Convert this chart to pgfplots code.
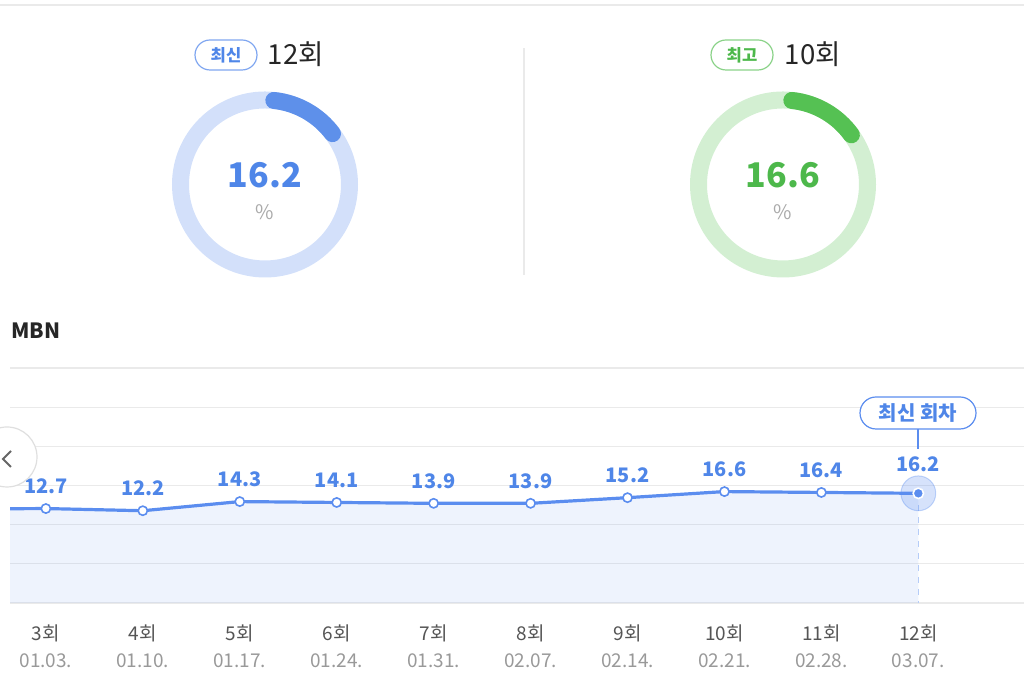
\documentclass[border=0pt]{standalone}
\usepackage{fontspec}
\setmainfont{Noto Sans CJK KR}
\usepackage{pgfplots}
\pgfplotsset{compat=1.18}
\definecolor{lineblue}{HTML}{5B8DEF}
\definecolor{lblblue}{HTML}{4F86E8}
\definecolor{ringblue}{HTML}{D3E0FA}
\definecolor{arcblue}{HTML}{5E90EA}
\definecolor{badgeblue}{HTML}{7FA6F0}
\definecolor{ringgreen}{HTML}{D3EFD2}
\definecolor{arcgreen}{HTML}{55C153}
\definecolor{lblgreen}{HTML}{4DB84B}
\definecolor{badgegreen}{HTML}{8AD288}
\definecolor{gridc}{HTML}{EAEAEA}
\definecolor{tickc}{HTML}{555555}
\definecolor{datec}{HTML}{999999}
\definecolor{pctc}{HTML}{AAAAAA}
\begin{document}
\begin{tikzpicture}[x=0.5pt,y=0.5pt]
\path[use as bounding box] (0,0) rectangle (1024,699);
% top line and separator
\draw[gridc, line width=0.75pt] (0,694) -- (1024,694);
\draw[gridc, line width=0.6pt] (524,651) -- (524,424);
% left donut
\draw[ringblue, line width=8.5pt] (265,514.5) circle[radius=84.5];
\draw[arcblue, line width=8.5pt, line cap=round] ([shift={(84:84.5)}]265,514.5) arc[start angle=84, end angle=37, radius=84.5];
\node[font=\fontsize{17}{20}\selectfont\bfseries, text=lblblue] at (265,524) {16.2};
\node[font=\fontsize{10}{12}\selectfont, text=pctc] at (265,487) {\%};
\node[draw=badgeblue, line width=0.6pt, rounded corners=7.5pt, minimum width=31pt, minimum height=15pt, inner sep=0pt, text=lblblue, font=\fontsize{8.3}{9}\selectfont\bfseries] at (226,644) {최신};
\node[font=\fontsize{13.8}{15}\selectfont, text=black!85] at (296,645) {12회};
% right donut
\draw[ringgreen, line width=8.5pt] (783,514.5) circle[radius=84.5];
\draw[arcgreen, line width=8.5pt, line cap=round] ([shift={(84:84.5)}]783,514.5) arc[start angle=84, end angle=36, radius=84.5];
\node[font=\fontsize{17}{20}\selectfont\bfseries, text=lblgreen] at (783,524) {16.6};
\node[font=\fontsize{10}{12}\selectfont, text=pctc] at (783,487) {\%};
\node[draw=badgegreen, line width=0.6pt, rounded corners=7.5pt, minimum width=31pt, minimum height=15pt, inner sep=0pt, text=lblgreen, font=\fontsize{8.3}{9}\selectfont\bfseries] at (742,644) {최고};
\node[font=\fontsize{13.8}{15}\selectfont, text=black!85] at (813,645) {10회};
% title
\node[anchor=west, font=\fontsize{10.5}{12}\selectfont\bfseries, text=black!85, inner sep=0pt] at (11,368) {MBN};
\begin{axis}[at={(5pt,48pt)}, anchor=south west, width=507pt, height=117.5pt, scale only axis,
  xmin=2.63, xmax=13.09, ymin=-9, ymax=45,
  ytick={-9,0,9,18,27,36,45}, yticklabels={},
  ymajorgrids, grid style={gridc, line width=0.6pt},
  axis line style={draw=none}, major tick length=0pt,
  xtick={3,4,5,6,7,8,9,10,11,12},
  xticklabels={{3회\\\textcolor{datec}{01.03.}},{4회\\\textcolor{datec}{01.10.}},{5회\\\textcolor{datec}{01.17.}},{6회\\\textcolor{datec}{01.24.}},{7회\\\textcolor{datec}{01.31.}},{8회\\\textcolor{datec}{02.07.}},{9회\\\textcolor{datec}{02.14.}},{10회\\\textcolor{datec}{02.21.}},{11회\\\textcolor{datec}{02.28.}},{12회\\\textcolor{datec}{03.07.}}},
  xticklabel style={align=center, font=\fontsize{9.5}{13.5}\selectfont, text=tickc, yshift=-7.5pt},
  clip=true]
\addplot[fill=lineblue, fill opacity=0.1, draw=none, forget plot] coordinates {(2,12.6)(3,12.7)(4,12.2)(5,14.3)(6,14.1)(7,13.9)(8,13.9)(9,15.2)(10,16.6)(11,16.4)(12,16.2)(12,-9)(2,-9)} -- cycle;
\draw[lineblue!45, dashed, line width=0.5pt] (axis cs:12,16.2) -- (axis cs:12,-9);
\addplot[lineblue, line width=1.6pt, mark=*, mark size=2.3pt, mark options={fill=white, draw=lineblue, line width=0.8pt}] coordinates {(2,12.6)(3,12.7)(4,12.2)(5,14.3)(6,14.1)(7,13.9)(8,13.9)(9,15.2)(10,16.6)(11,16.4)(12,16.2)};
\addplot[only marks, mark=*, mark size=8.7pt, mark options={fill=lineblue, fill opacity=0.25, draw=lineblue, draw opacity=0.35, line width=0.5pt}] coordinates {(12,16.2)};
\addplot[only marks, mark=*, mark size=2.6pt, mark options={fill=lineblue, draw=white, line width=0.8pt}] coordinates {(12,16.2)};
\addplot[draw=none, mark=none, nodes near coords, point meta=explicit symbolic,
  every node near coord/.style={anchor=center, yshift=11pt, font=\fontsize{10}{12}\selectfont\bfseries, text=lblblue}]
  coordinates {(3,12.7)[12.7] (4,12.2)[12.2] (5,14.3)[14.3] (6,14.1)[14.1] (7,13.9)[13.9] (8,13.9)[13.9] (9,15.2)[15.2] (10,16.6)[16.6] (11,16.4)[16.4]};
\node[font=\fontsize{10}{12}\selectfont\bfseries, text=lblblue, yshift=14.5pt] at (axis cs:12,16.2) {16.2};
\end{axis}
% callout
\draw[lineblue, line width=0.6pt] (918,270) -- (918,250);
\node[draw=lineblue, fill=white, line width=0.6pt, rounded corners=8pt, minimum width=58pt, minimum height=16pt, inner sep=0pt, font=\fontsize{10}{12}\selectfont\bfseries, text=lblblue] at (918,286) {최신 회차};
% left nav button
\draw[gray!25, fill=white, line width=0.6pt] (7,242) circle[radius=30];
\draw[gray!80!black, line width=1pt] (11,248) -- (3,240) -- (11,232);
\end{tikzpicture}
\end{document}
